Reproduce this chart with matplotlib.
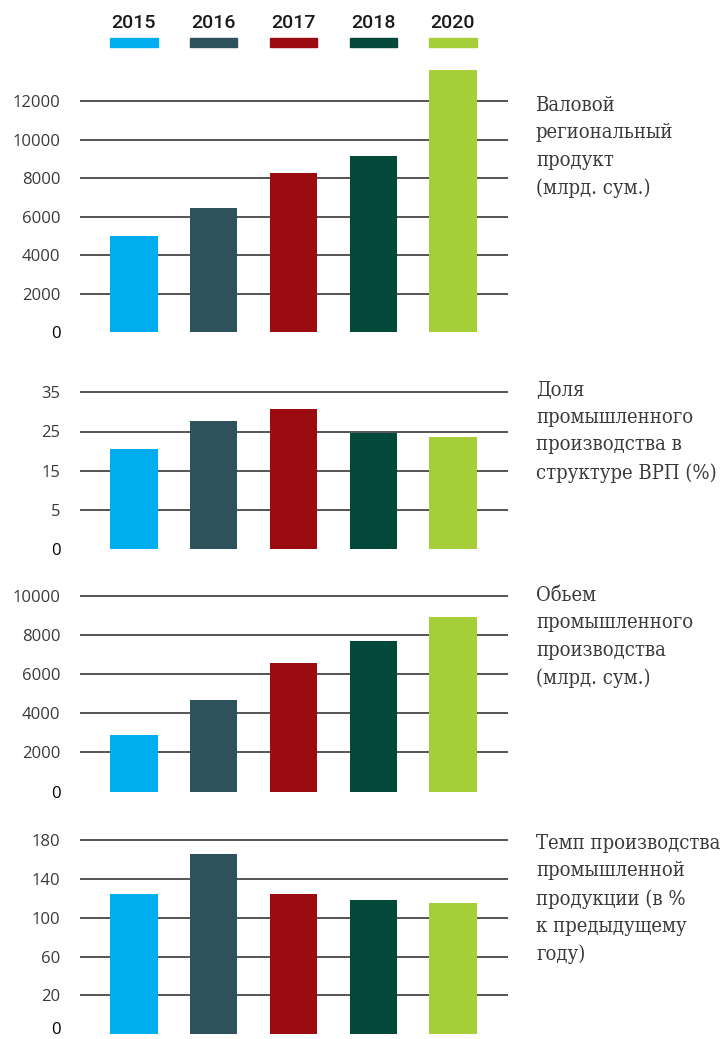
import numpy as np
import matplotlib
matplotlib.use("Agg")
import matplotlib.pyplot as plt
from matplotlib.patches import Rectangle

# ---- data ----
years = ['2015', '2016', '2017', '2018', '2020']
colors = ['#00AEEF', '#2E525C', '#9B0B12', '#02493C', '#A6CE39']

grp_values = [5020, 6440, 8270, 9140, 13650]        # ВРП, млрд сум
share_values = [20.6, 27.8, 30.8, 24.5, 23.5]       # доля промышленности, %
volume_values = [2870, 4650, 6560, 7710, 8890]      # объем пром. производства
growth_values = [124.5, 165.8, 124.5, 118.5, 115.5] # темп роста, %

grp_ticks = [0, 2000, 4000, 6000, 8000, 10000, 12000]
share_ticks = [0, 5, 15, 25, 35]
volume_ticks = [0, 2000, 4000, 6000, 8000, 10000]
growth_ticks = [0, 20, 60, 100, 140, 180]

titles = [
    "Валовой\nрегиональный\nпродукт\n(млрд. сум.)",
    "Доля\nпромышленного\nпроизводства в\nструктуре ВРП (%)",
    "Обьем\nпромышленного\nпроизводства\n(млрд. сум.)",
    "Темп производства\nпромышленной\nпродукции (в %\nк предыдущему\nгоду)",
]

W, H = 727, 1039
fig = plt.figure(figsize=(W / 100, H / 100), dpi=100)


def piecewise(brk):
    # first tick step is drawn at the same spacing as the later ones
    def fwd(v):
        v = np.asarray(v, dtype=float)
        return np.where(v < brk, 2 * v, v + brk)

    def inv(f):
        f = np.asarray(f, dtype=float)
        return np.where(f < 2 * brk, f / 2, f - brk)
    return fwd, inv


x = np.arange(len(years))
ax_left, ax_right = 80, 508
xlim = (-0.677, 4.69)
bar_w = 0.59

panels = [
    # values, ticks, scale break, ylim top, bottom px, top px, title top px
    (grp_values, grp_ticks, None, 14000, 332.0, 62.9, 96),
    (share_values, share_ticks, 5, 37, 549.0, 384.5, 381),
    (volume_values, volume_ticks, None, 10300, 791.5, 589.8, 586),
    (growth_values, growth_ticks, 20, 186, 1034.0, 834.6, 834),
]

n_panels = len(panels)
for i, ((vals, ticks, brk, ytop, pb, pt, tt), title) in enumerate(zip(panels, titles)):
    ax = fig.add_axes([ax_left / W, 1 - pb / H, (ax_right - ax_left) / W, (pb - pt) / H])
    if brk is not None:
        fwd, inv = piecewise(brk)
        ax.set_yscale('function', functions=(fwd, inv))
    ax.bar(x, vals, width=bar_w, color=colors, zorder=2)
    ax.set_xlim(*xlim)
    ax.set_ylim(0, ytop)
    ax.set_yticks(ticks)
    ax.set_yticklabels([str(t) for t in ticks], fontfamily='Open Sans', fontsize=12, color='#3a3a3a')
    ax.tick_params(axis='y', length=0, pad=14)
    ax.set_xticks([])
    for s in ax.spines.values():
        s.set_visible(False)
    ax.set_axisbelow(True)
    ax.grid(axis='y', color='#262626', linewidth=1.1)
    ax.yaxis.get_gridlines()[0].set_visible(False)
    zero_lbl = ax.get_yticklabels()[0]
    zero_lbl.set_color('#000000')
    zero_lbl.set_fontsize(12)
    if i == n_panels - 1:
        zero_lbl.set_verticalalignment('baseline')
    ax.patch.set_alpha(0)
    fig.text(536 / W, 1 - tt / H, title, ha='left', va='top',
             fontfamily='DejaVu Serif', fontstretch='condensed',
             fontsize=14.5, color='#3a3a3a', linespacing=1.55)

# ---- legend: year labels above colored swatches ----
lax = fig.add_axes([ax_left / W, 1 - 50 / H, (ax_right - ax_left) / W, 40 / H])
lax.set_xlim(*xlim)
lax.set_ylim(50, 10)  # pixel-like coordinates, top down
lax.axis('off')
for xi, yr, c in zip(x, years, colors):
    lax.add_patch(Rectangle((xi - bar_w / 2, 38), bar_w, 9, color=c))
    lax.text(xi, 28, yr, ha='center', va='baseline', fontfamily='Roboto',
             fontweight='medium', fontsize=14, color='#1a1a1a')

fig.savefig('out.png', dpi=100)
